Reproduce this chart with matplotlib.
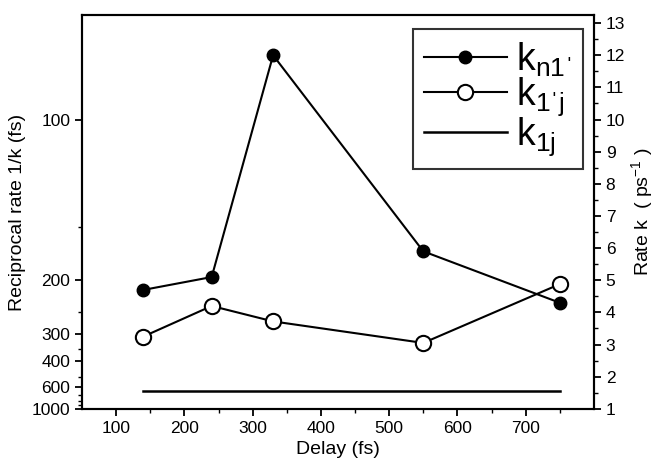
import matplotlib
matplotlib.use("Agg")
import matplotlib.pyplot as plt
from matplotlib.ticker import MultipleLocator, FixedLocator

plt.rcParams['font.family'] = ['Liberation Sans', 'DejaVu Sans']
plt.rcParams['mathtext.fontset'] = 'custom'
plt.rcParams['mathtext.rm'] = 'Liberation Sans'
plt.rcParams['mathtext.it'] = 'Liberation Sans'
plt.rcParams['mathtext.default'] = 'regular'

# data (rate k in ps^-1)
delay = [140, 240, 330, 550, 750]
k_n1 = [4.7, 5.1, 12.0, 5.9, 4.3]
k_1j_prime = [3.25, 4.2, 3.72, 3.05, 4.88]
k_1j_x = [140, 750]
k_1j = [1.57, 1.57]

recip_major = [100, 200, 300, 400, 600, 1000]
recip_minor = [150, 250, 350, 500, 700, 800, 900]
delay_ticks = [100, 200, 300, 400, 500, 600, 700]

PR = "\u02c8"  # straight apostrophe-like mark

fig = plt.figure(figsize=(6.57, 4.71), dpi=100)
ax = fig.add_axes([0.1248, 0.132, 0.7792, 0.836])

ax.plot(delay, k_n1, '-o', color='black', lw=1.5, ms=9, mfc='black',
        mec='black', label="$k_{n1" + PR + "}$")
ax.plot(delay, k_1j_prime, '-o', color='black', lw=1.5, ms=11, mfc='white',
        mec='black', mew=1.5, label="$k_{1" + PR + "j}$")
ax.plot(k_1j_x, k_1j, '-', color='black', lw=1.8, label="$k_{1j}$")

ax.set_xlim(50, 800)
ax.set_ylim(1, 13.25)
ax.xaxis.set_major_locator(FixedLocator(delay_ticks))
ax.xaxis.set_minor_locator(FixedLocator([150, 250, 350, 450, 550, 650, 750]))
ax.set_xlabel("Delay (fs)", fontsize=14)

# left axis: reciprocal rate 1/k in fs
ax.yaxis.set_major_locator(FixedLocator([1000.0 / v for v in recip_major]))
ax.set_yticklabels([str(v) for v in recip_major])
ax.yaxis.set_minor_locator(FixedLocator([1000.0 / v for v in recip_minor]))
ax.set_ylabel("Reciprocal rate 1/k (fs)", fontsize=14)

ax2 = ax.twinx()
ax2.set_ylim(1, 13.25)
ax2.yaxis.set_major_locator(MultipleLocator(1))
ax2.yaxis.set_minor_locator(MultipleLocator(0.5))
ax2.set_ylabel("Rate k  ( ps$^{-1}$ )", fontsize=14, labelpad=3)

for a in (ax, ax2):
    for s in a.spines.values():
        s.set_linewidth(1.5)
    a.tick_params(which='major', direction='out', length=5, width=1.3, labelsize=12.5)
    a.tick_params(which='minor', direction='out', length=3, width=1.0)

leg = ax.legend(loc='upper right', bbox_to_anchor=(0.978, 0.964), borderaxespad=0,
                fontsize=27, frameon=True, fancybox=False, handlelength=2.2,
                handletextpad=0.25, labelspacing=-0.08, borderpad=0.3)
leg.get_frame().set_edgecolor('black')
leg.get_frame().set_linewidth(1.5)

fig.savefig("out.png", dpi=100)
